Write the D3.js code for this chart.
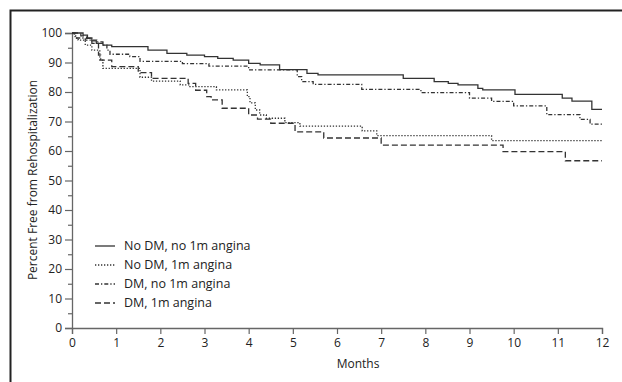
<!DOCTYPE html>
<html>
<head>
<meta charset="utf-8">
<script src="https://cdn.jsdelivr.net/npm/d3@7"></script>
<style>
  html, body { margin: 0; padding: 0; background: #fff; }
  svg { display: block; font-family: "Open Sans", "Noto Sans", sans-serif; }
</style>
</head>
<body>
<svg id="chart" width="622" height="382"></svg>
<script>
// Kaplan-Meier step points [month, percent free]
const noDmNoAngina = [
  [0, 100], [0.25, 99.3], [0.35, 98.3], [0.45, 97.3], [0.55, 96.5], [0.7, 95.9],
  [0.9, 95.4], [1.72, 94.2], [2.15, 93.1], [2.6, 92.5], [3.0, 92.0], [3.3, 91.4],
  [3.65, 90.8], [4.0, 89.7], [4.26, 89.2], [4.7, 87.6], [5.32, 86.3], [5.57, 85.8],
  [7.5, 84.6], [8.2, 83.5], [8.52, 82.9], [8.74, 82.4], [9.19, 81.2], [9.3, 80.7],
  [10.03, 79.2], [11.1, 77.9], [11.32, 76.9], [11.77, 74.1], [12, 74.1]
];
const noDmAngina = [
  [0, 100], [0.07, 98.3], [0.14, 97.6], [0.3, 95.9], [0.45, 94.2], [0.63, 90.8],
  [0.7, 88.0], [1.54, 85.0], [1.8, 83.7], [2.45, 82.4], [2.67, 81.8], [3.27, 80.7],
  [3.97, 78.4], [4.03, 76.3], [4.15, 73.9], [4.25, 72.2], [4.4, 71.1], [4.82, 69.6],
  [5.16, 68.4], [6.57, 66.8], [6.9, 65.2], [9.5, 63.5], [12, 63.5]
];
const dmNoAngina = [
  [0, 100], [0.05, 99.0], [0.1, 98.3], [0.3, 97.6], [0.56, 97.0], [0.7, 95.9],
  [0.79, 94.2], [0.86, 92.8], [1.31, 92.0], [1.54, 90.4], [2.5, 89.6], [3.1, 88.8],
  [4.0, 87.5], [5.1, 85.2], [5.2, 83.5], [5.46, 82.6], [6.56, 80.9], [7.9, 79.8],
  [9.0, 77.9], [9.5, 76.8], [10.0, 75.3], [10.75, 72.3], [11.5, 70.7], [11.73, 69.1],
  [12, 69.1]
];
const dmAngina = [
  [0, 100], [0.2, 99.0], [0.33, 98.2], [0.45, 96.5], [0.6, 92.5], [0.65, 90.8],
  [0.9, 88.6], [1.5, 86.6], [1.8, 84.6], [2.63, 82.9], [2.8, 80.6], [3.05, 78.4],
  [3.15, 77.3], [3.4, 74.5], [4.0, 72.2], [4.2, 70.8], [4.5, 69.4], [5.05, 66.5],
  [5.7, 64.4], [7.0, 62.0], [9.76, 59.8], [11.17, 56.7], [12, 56.7]
];

const seriesNames = ["No DM, no 1m angina", "No DM, 1m angina", "DM, no 1m angina", "DM, 1m angina"];
const seriesData = [noDmNoAngina, noDmAngina, dmNoAngina, dmAngina];
const seriesDash = [null, "1.3,1.7", "4,2,1.3,2", "6,3"];

const xTicks = d3.range(0, 13, 1);
const yTicks = d3.range(0, 101, 10);
const yMinorTicks = d3.range(5, 100, 10);

const svg = d3.select("#chart");
const margin = { left: 72, right: 20, top: 33, bottom: 54 };
const width = 622, height = 382;

const x = d3.scaleLinear().domain([0, 12]).range([margin.left, width - margin.right]);
const y = d3.scaleLinear().domain([0, 100]).range([height - margin.bottom, margin.top]);

// outer frame (runs off the right and bottom edges)
svg.append("rect")
  .attr("x", 10.5).attr("y", 10.5)
  .attr("width", 640).attr("height", 400)
  .attr("fill", "none")
  .attr("stroke", "#222")
  .attr("stroke-width", 2);

const axisColour = "#666";

// y axis
const yAxis = svg.append("g")
  .attr("transform", `translate(${margin.left},0)`)
  .call(d3.axisLeft(y).tickValues(yTicks).tickSize(7).tickPadding(3));
svg.append("g")
  .attr("transform", `translate(${margin.left},0)`)
  .call(d3.axisLeft(y).tickValues(yMinorTicks).tickSize(4).tickFormat(""))
  .call(g => g.select(".domain").remove())
  .selectAll("line").attr("stroke", axisColour).attr("stroke-width", 1.2);

// x axis
const xAxis = svg.append("g")
  .attr("transform", `translate(0,${y(0)})`)
  .call(d3.axisBottom(x).tickValues(xTicks).tickSize(6).tickPadding(4));

[yAxis, xAxis].forEach(g => {
  g.select(".domain").attr("stroke", axisColour).attr("stroke-width", 1.3);
  g.selectAll(".tick line").attr("stroke", axisColour).attr("stroke-width", 1.2);
  g.selectAll(".tick text").attr("fill", "#222").attr("font-size", 12)
    .attr("font-family", "'Open Sans', sans-serif");
});

// axis titles
svg.append("text")
  .attr("x", 358).attr("y", 368)
  .attr("text-anchor", "middle")
  .attr("font-size", 12).attr("fill", "#222")
  .text("Months");

svg.append("text")
  .attr("transform", "translate(37,180) rotate(-90)")
  .attr("text-anchor", "middle")
  .attr("font-size", 12).attr("fill", "#222")
  .text("Percent Free from Rehospitalization");

// survival curves
const line = d3.line()
  .x(d => x(d[0]))
  .y(d => y(d[1]))
  .curve(d3.curveStepAfter);

svg.append("g").selectAll("path")
  .data(seriesData)
  .join("path")
  .attr("d", line)
  .attr("fill", "none")
  .attr("stroke", "#333")
  .attr("stroke-width", 1.3)
  .attr("stroke-dasharray", (d, i) => seriesDash[i]);

// legend
const legend = svg.append("g");
seriesNames.forEach((name, i) => {
  const ly = 246 + i * 19;
  legend.append("line")
    .attr("x1", 95).attr("x2", 115)
    .attr("y1", ly).attr("y2", ly)
    .attr("stroke", "#333")
    .attr("stroke-width", 1.3)
    .attr("stroke-dasharray", seriesDash[i]);
  legend.append("text")
    .attr("x", 124).attr("y", ly)
    .attr("dy", "0.35em")
    .attr("font-size", 12.5).attr("fill", "#222")
    .text(name);
});
</script>
</body>
</html>
